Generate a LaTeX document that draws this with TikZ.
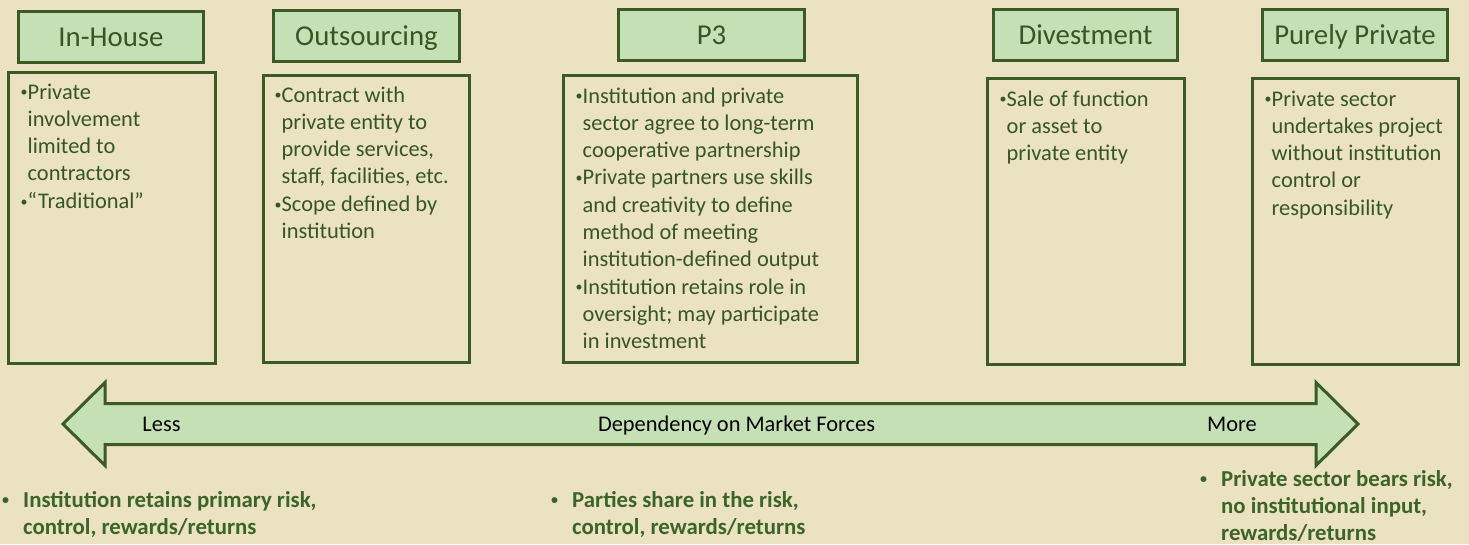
\documentclass[tikz,border=0pt]{standalone}
\usepackage{fontspec}
\setmainfont{Carlito}
\definecolor{bg}{HTML}{EAE2C0}
\definecolor{hfill}{HTML}{C5E0B4}
\definecolor{bord}{HTML}{3C5A23}
\definecolor{txt}{HTML}{375623}
\definecolor{btxt}{HTML}{3C6428}
\newcommand\bul[1]{\makebox[#1][l]{\raisebox{2.2pt}{\fontsize{14}{14}\selectfont •}}}
\newcommand\bitem[2]{\par\hangindent=#1\hangafter=1\noindent\bul{#1}#2}
\newcommand\bodytext[1]{\parbox[t]{320pt}{\fontsize{22.4}{27.3}\selectfont\parskip=0pt #1}}
\newcommand\bottext[1]{\parbox[t]{320pt}{\fontsize{22.8}{27}\selectfont\bfseries\parskip=0pt #1}}
\tikzset{
  hdr/.style={draw=bord, fill=hfill, line width=3pt, inner sep=0pt, text=txt,
    font=\fontsize{28.8}{30}\selectfont, text height=18.5pt, text depth=0pt},
  bodybox/.style={draw=bord, line width=3pt, inner sep=0pt},
  btext/.style={anchor=base west, inner sep=0pt, text=txt},
  bottom/.style={anchor=base west, inner sep=0pt, text=btxt},
  axlabel/.style={anchor=base, inner sep=0pt, text=black, font=\fontsize{22.4}{26}\selectfont},
  axis/.style={draw=bord, fill=hfill, line width=3pt, line join=miter}
}
\begin{document}
\begin{tikzpicture}[x=1pt,y=-1pt]
\path[fill=bg] (0,0) rectangle (1469,544);
\useasboundingbox (0,0) rectangle (1469,544);

% header boxes
\node[hdr, minimum width=185, minimum height=51] (h1) at (111,37) {In-House};
\node[hdr, minimum width=186, minimum height=51] (h2) at (366.5,36) {Outsourcing};
\node[hdr, minimum width=186, minimum height=51] (h3) at (711.5,35) {P3};
\node[hdr, minimum width=184, minimum height=51] (h4) at (1085.5,35) {Divestment};
\node[hdr, minimum width=185, minimum height=51] (h5) at (1355,35) {Purely Private};

% body boxes
\node[bodybox, minimum width=207, minimum height=291] (b1) at (112,218) {};
\node[bodybox, minimum width=206, minimum height=287] (b2) at (366.5,219) {};
\node[bodybox, minimum width=294, minimum height=287] (b3) at (710.5,219) {};
\node[bodybox, minimum width=197, minimum height=286] (b4) at (1086,221.5) {};
\node[bodybox, minimum width=206, minimum height=286] (b5) at (1355.5,221.5) {};

% body texts
\node[btext] (t1) at (20.5,99) {\bodytext{%
  \bitem{7pt}{Private\\involvement\\limited to\\contractors}%
  \bitem{7pt}{“Traditional”}}};
\node[btext] (t2) at (274.5,102) {\bodytext{%
  \bitem{7pt}{Contract with\\private entity to\\provide services,\\staff, facilities, etc.}%
  \bitem{7pt}{Scope defined by\\institution}}};
\node[btext] (t3) at (575.5,103) {\bodytext{%
  \bitem{7pt}{Institution and private\\sector agree to long-term\\cooperative partnership}%
  \bitem{7pt}{Private partners use skills\\and creativity to define\\method of meeting\\institution-defined output}%
  \bitem{7pt}{Institution retains role in\\oversight; may participate\\in investment}}};
\node[btext] (t4) at (999.5,106) {\bodytext{%
  \bitem{7pt}{Sale of function\\or asset to\\private entity}}};
\node[btext] (t5) at (1264.5,106) {\bodytext{%
  \bitem{7pt}{Private sector\\undertakes project\\without institution\\control or\\responsibility}}};

% axis arrow
\draw[axis] (63,424) -- (105,382.5) -- (105,403.5) -- (1316,403.5) -- (1316,382.5)
  -- (1358,424) -- (1316,465.5) -- (1316,444.5) -- (105,444.5) -- (105,465.5) -- cycle;
\node[axlabel] (less) at (161.5,431.5) {Less};
\node[axlabel] (dep) at (736.5,431.5) {Dependency on Market Forces};
\node[axlabel] (more) at (1232,431.5) {More};

% bottom texts
\node[bottom] (l1) at (2,507) {\bottext{%
  \bitem{21pt}{Institution retains primary risk,\\control, rewards/returns}}};
\node[bottom] (l2) at (551,507) {\bottext{%
  \bitem{21pt}{Parties share in the risk,\\control, rewards/returns}}};
\node[bottom] (l3) at (1200,486) {\bottext{%
  \bitem{21pt}{Private sector bears risk,\\no institutional input,\\rewards/returns}}};
\end{tikzpicture}
\end{document}
